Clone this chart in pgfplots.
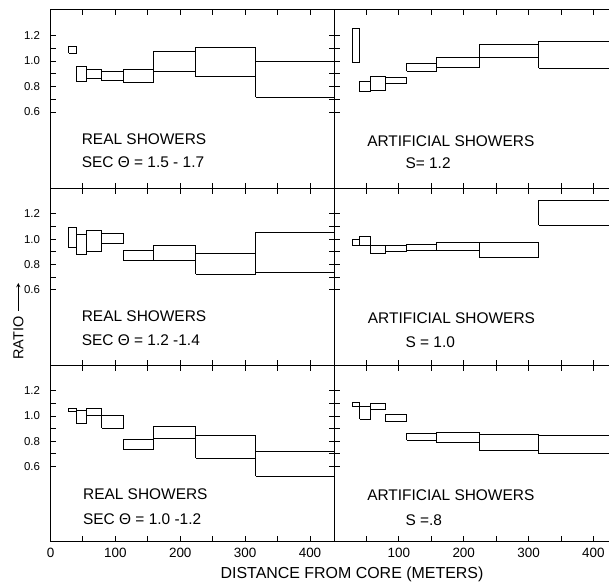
\documentclass[border=0pt]{standalone}
\usepackage{fontspec}
\setmainfont{Liberation Sans}
\usepackage{pgfplots}
\usepackage{pgfplotstable}
\pgfplotsset{compat=1.18}

% ratio boxes: distance bin (m) and ratio range
\pgfplotstableread{
x1  x2  lo    hi
28  40  1.06  1.11
40  56  0.84  0.955
56  79  0.86  0.93
79  112 0.845 0.92
112 158 0.835 0.935
158 224 0.915 1.075
224 316 0.875 1.105
316 447 0.715 0.995
}\realA
\pgfplotstableread{
x1  x2  lo    hi
28  40  0.93  1.095
40  56  0.88  1.035
56  79  0.905 1.066
79  112 0.963 1.048
112 158 0.828 0.910
158 224 0.828 0.952
224 316 0.722 0.884
316 447 0.738 1.053
}\realB
\pgfplotstableread{
x1  x2  lo    hi
28  40  1.032 1.061
40  56  0.939 1.045
56  79  1.0   1.061
79  112 0.902 1.0
112 158 0.737 0.809
158 224 0.817 0.918
224 316 0.663 0.841
316 447 0.522 0.721
}\realC
\pgfplotstableread{
x1  x2  lo    hi
28  40  0.99  1.254
40  56  0.757 0.84
56  79  0.767 0.882
79  112 0.822 0.872
112 158 0.921 0.979
158 224 0.948 1.024
224 316 1.031 1.128
316 447 0.942 1.149
}\artA
\pgfplotstableread{
x1  x2  lo    hi
28  40  0.948 0.995
40  56  0.948 1.021
56  79  0.885 0.948
79  112 0.900 0.948
112 158 0.911 0.956
158 224 0.908 0.974
224 316 0.858 0.976
316 447 1.111 1.308
}\artB
\pgfplotstableread{
x1  x2  lo    hi
28  40  1.072 1.104
40  56  0.976 1.072
56  79  1.054 1.098
79  112 0.954 1.008
112 158 0.808 0.861
158 224 0.789 0.867
224 316 0.728 0.851
316 447 0.701 0.845
}\artC

\newcommand{\drawboxes}[1]{%
  \pgfplotsinvokeforeach{0,...,7}{%
    \pgfplotstablegetelem{##1}{x1}\of{#1}\let\xa\pgfplotsretval
    \pgfplotstablegetelem{##1}{x2}\of{#1}\let\xb\pgfplotsretval
    \pgfplotstablegetelem{##1}{lo}\of{#1}\let\ya\pgfplotsretval
    \pgfplotstablegetelem{##1}{hi}\of{#1}\let\yb\pgfplotsretval
    \edef\onebox{\noexpand\addplot[boxline] coordinates
      {(\xa,\ya) (\xb,\ya) (\xb,\yb) (\xa,\yb) (\xa,\ya)};}%
    \onebox
  }%
}

\newcommand{\lbl}{\fontsize{15.5}{18}\selectfont}

\pgfplotsset{
  boxline/.style={black, line width=1pt, mark=none},
  panel/.style={
    scale only axis, anchor=south west,
    xmin=0, ymin=0, ymax=1.4,
    xtick={0,50,...,400}, xticklabels={},
    ytick={0.6,0.8,1.0,1.2}, minor ytick={0.7,0.9,1.1},
    yticklabels={},
    tick align=inside,
    major tick length=5.5bp, minor tick length=5.5bp,
    every tick/.style={black, line width=0.9pt},
    every minor tick/.style={black, line width=0.9pt},
    axis line style={black, line width=1pt},
    /pgf/number format/assume math mode=true,
    xticklabel style={font=\fontsize{13.5}{15}\selectfont, yshift=-2.5bp},
    yticklabel style={font=\fontsize{11.5}{13}\selectfont, xshift=-7bp},
  },
  leftpanel/.style={panel, at={(50.5bp,#1)}, width=283.5bp, xmax=437,
    yticklabels={0.6,0.8,1.0,1.2}},
  rightpanel/.style={panel, at={(334bp,#1)}, width=275bp, xmax=424,
    axis x line*=box, axis y line*=left, ytick pos=left,
    x axis line style={-}, y axis line style={-}},
}

\begin{document}
\begin{tikzpicture}
\useasboundingbox (0,0) rectangle (609bp,582bp);

% top row
\begin{axis}[leftpanel=393.5bp, height=178.5bp]
  \drawboxes{\realA}
  \node[anchor=base west, inner sep=0, font=\lbl] at (axis cs:48,0.343) {REAL SHOWERS};
  \node[anchor=base west, inner sep=0, font=\lbl] at (axis cs:48,0.166) {SEC Θ = 1.5 - 1.7};
\end{axis}
\begin{axis}[rightpanel=393.5bp, height=178.5bp]
  \drawboxes{\artA}
  \node[anchor=base west, inner sep=0, font=\lbl] at (axis cs:51,0.333) {ARTIFICIAL SHOWERS};
  \node[anchor=base west, inner sep=0, font=\lbl] at (axis cs:110,0.16) {S= 1.2};
\end{axis}

% middle row
\begin{axis}[leftpanel=216.3bp, height=177.2bp]
  \drawboxes{\realB}
  \node[anchor=base west, inner sep=0, font=\lbl] at (axis cs:48,0.347) {REAL SHOWERS};
  \node[anchor=base west, inner sep=0, font=\lbl] at (axis cs:48,0.158) {SEC Θ = 1.2 -1.4};
\end{axis}
\begin{axis}[rightpanel=216.3bp, height=177.2bp]
  \drawboxes{\artB}
  \node[anchor=base west, inner sep=0, font=\lbl] at (axis cs:52,0.332) {ARTIFICIAL SHOWERS};
  \node[anchor=base west, inner sep=0, font=\lbl] at (axis cs:110,0.14) {S = 1.0};
\end{axis}

% bottom row
\begin{axis}[leftpanel=40.3bp, height=176bp,
    xticklabels={0,,100,,200,,300,,400}]
  \drawboxes{\realC}
  \node[anchor=base west, inner sep=0, font=\lbl] at (axis cs:50,0.337) {REAL SHOWERS};
  \node[anchor=base west, inner sep=0, font=\lbl] at (axis cs:50,0.135) {SEC Θ = 1.0 -1.2};
\end{axis}
\begin{axis}[rightpanel=40.3bp, height=176bp,
    xticklabels={,,100,,200,,300,,400}]
  \drawboxes{\artC}
  \node[anchor=base west, inner sep=0, font=\lbl] at (axis cs:51,0.328) {ARTIFICIAL SHOWERS};
  \node[anchor=base west, inner sep=0, font=\lbl] at (axis cs:110,0.128) {S =.8};
\end{axis}

% shared labels
\node[rotate=90, font=\fontsize{14.5}{17}\selectfont] at (18.3bp,244bp) {RATIO};
\draw[-stealth, line width=0.9pt] (18.3bp,271bp) -- (18.3bp,299bp);
\node[anchor=base, font=\fontsize{16}{19}\selectfont] at (352bp,3.7bp) {DISTANCE FROM CORE (METERS)};
\end{tikzpicture}
\end{document}
